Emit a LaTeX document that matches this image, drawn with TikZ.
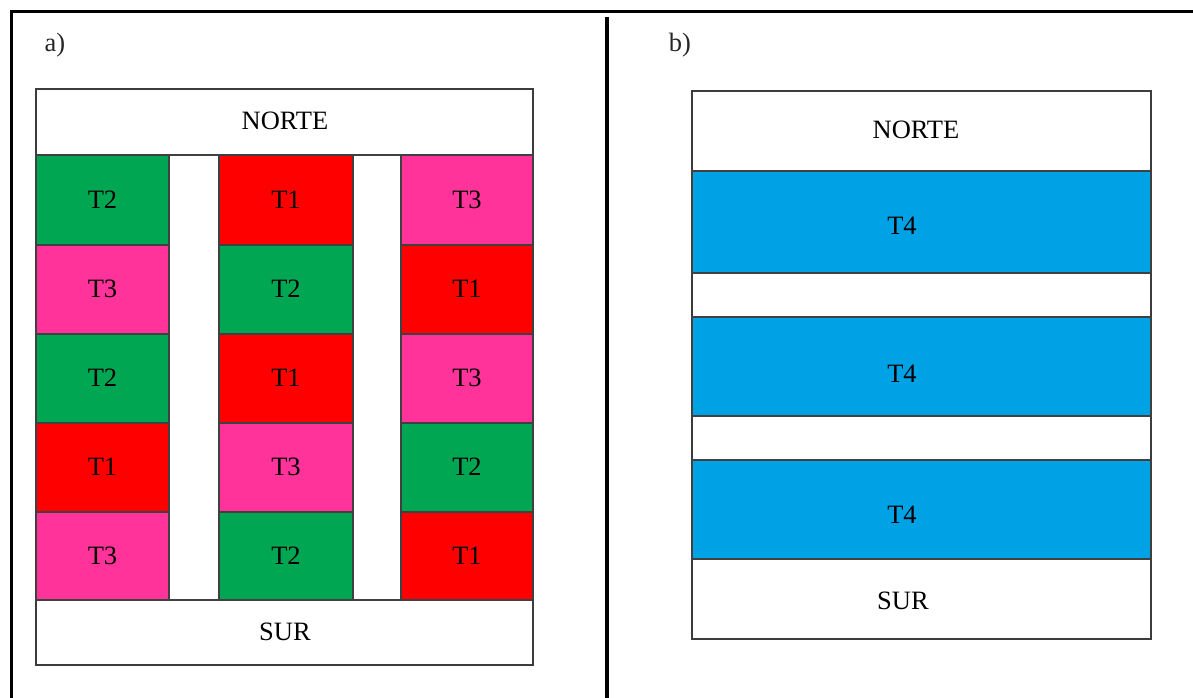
\documentclass[tikz,border=0pt]{standalone}
\usepackage{fontspec}
\setmainfont{Liberation Serif}
\definecolor{plotgreen}{RGB}{0,166,81}
\definecolor{plotred}{RGB}{255,0,0}
\definecolor{plotpink}{RGB}{255,51,153}
\definecolor{plotblue}{RGB}{0,162,230}
\definecolor{edgegray}{RGB}{60,60,60}
\tikzset{
  frame/.style={line width=3.6pt, black},
  plotbox/.style={draw=edgegray, line width=1.6pt, fill=white},
  cell/.style={draw=black!75, line width=1.2pt, inner sep=0pt, outer sep=0pt},
  lbl/.style={font=\fontsize{26.5}{30}\selectfont, inner sep=0pt},
  tag/.style={font=\fontsize{26.5}{30}\selectfont, inner sep=0pt, text=black!85},
  T1/.style={cell, fill=plotred},
  T2/.style={cell, fill=plotgreen},
  T3/.style={cell, fill=plotpink},
  T4/.style={cell, fill=plotblue},
}
\begin{document}
\begin{tikzpicture}[x=1pt, y=-1pt]
\useasboundingbox (0,0) rectangle (1193,698);

% outer frame and divider
\draw[frame] (11.5,698) -- (11.5,11.5) -- (1193,11.5);
\draw[frame] (607,17) -- (607,698);

% panel labels
\node[tag] (tagA) at (55,45) {a)};
\node[tag] (tagB) at (680,45) {b)};

% ---------- panel a ----------
\draw[plotbox] (36,89) rectangle (533,665);
\node[lbl] (nA) at (285,121) {NORTE};
\node[lbl] (sA) at (285,632) {SUR};
% white alleys between plot columns
\draw[cell, fill=white] (169,155) rectangle (219,600);
\draw[cell, fill=white] (353,155) rectangle (401,600);

% plot cells: column, left, right
\foreach \c/\xl/\xr/\labs in {
  1/36/169/{T2,T3,T2,T1,T3},
  2/219/353/{T1,T2,T1,T3,T2},
  3/401/533/{T3,T1,T3,T2,T1}}{
  \foreach \t [count=\r] in \labs {
    \pgfmathsetmacro{\yt}{{155,245,334,423,512}[\r-1]}
    \pgfmathsetmacro{\yb}{{245,334,423,512,600}[\r-1]}
    \node[\t, minimum width={\xr-\xl}, minimum height={\yb-\yt},
          font=\fontsize{26.5}{30}\selectfont]
      (a\c\r) at ({(\xl+\xr)/2},{(\yt+\yb)/2}) {\raisebox{1pt}{\t}};
  }
}

% ---------- panel b ----------
\draw[plotbox] (692,91) rectangle (1151,639);
\node[lbl] (nB) at (916,130) {NORTE};
\node[lbl] (sB) at (903,601) {SUR};
\foreach \yt/\yb/\ty [count=\k] in {171/273/226, 317/416/374, 460/559/515}{
  \node[T4, minimum width=459pt, minimum height={\yb-\yt}]
    (b\k) at (921.5,{(\yt+\yb)/2}) {};
  \node[lbl] (bt\k) at (902,\ty) {T4};
}
\end{tikzpicture}
\end{document}
